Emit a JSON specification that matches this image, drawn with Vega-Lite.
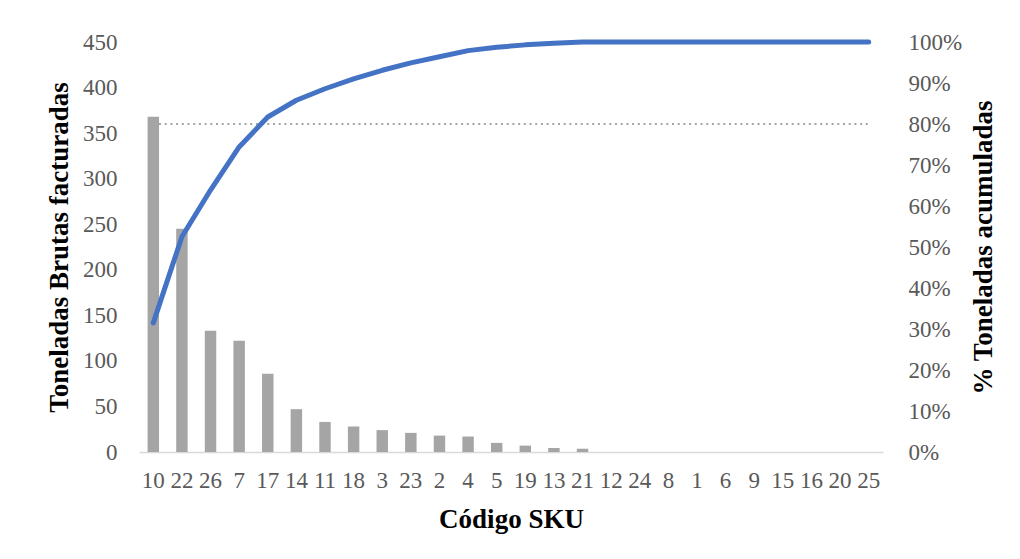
{
  "$schema": "https://vega.github.io/schema/vega-lite/v6.json",
  "width": 744,
  "height": 410,
  "autosize": "none",
  "padding": {"left": 139, "top": 42, "right": 137, "bottom": 107},
  "background": "white",
  "config": {
    "view": {"stroke": null},
    "font": "Liberation Serif",
    "axis": {"grid": false, "ticks": false, "labelFont": "Liberation Serif", "labelFontSize": 23, "labelColor": "#595959", "titleFont": "Liberation Serif", "titleFontSize": 27, "titleFontWeight": "bold", "titleColor": "#000000"}
  },
  "data": {
    "values": [
      {"sku": "10", "tons": 368, "pct": 0.315},
      {"sku": "22", "tons": 245, "pct": 0.525},
      {"sku": "26", "tons": 133, "pct": 0.639},
      {"sku": "7", "tons": 122, "pct": 0.744},
      {"sku": "17", "tons": 86, "pct": 0.817},
      {"sku": "14", "tons": 47, "pct": 0.858},
      {"sku": "11", "tons": 33, "pct": 0.886},
      {"sku": "18", "tons": 28, "pct": 0.910},
      {"sku": "3", "tons": 24, "pct": 0.931},
      {"sku": "23", "tons": 21, "pct": 0.949},
      {"sku": "2", "tons": 18, "pct": 0.964},
      {"sku": "4", "tons": 17, "pct": 0.979},
      {"sku": "5", "tons": 10, "pct": 0.987},
      {"sku": "19", "tons": 7, "pct": 0.993},
      {"sku": "13", "tons": 4.4, "pct": 0.997},
      {"sku": "21", "tons": 3.6, "pct": 1.0},
      {"sku": "12", "tons": 0, "pct": 1.0},
      {"sku": "24", "tons": 0, "pct": 1.0},
      {"sku": "8", "tons": 0, "pct": 1.0},
      {"sku": "1", "tons": 0, "pct": 1.0},
      {"sku": "6", "tons": 0, "pct": 1.0},
      {"sku": "9", "tons": 0, "pct": 1.0},
      {"sku": "15", "tons": 0, "pct": 1.0},
      {"sku": "16", "tons": 0, "pct": 1.0},
      {"sku": "20", "tons": 0, "pct": 1.0},
      {"sku": "25", "tons": 0, "pct": 1.0}
    ]
  },
  "encoding": {
    "x": {
      "field": "sku", "type": "ordinal", "sort": null,
      "scale": {"paddingInner": 0.6, "paddingOuter": 0.3},
      "axis": {"title": "Código SKU", "labelAngle": 0, "labelPadding": 17, "domainColor": "#D9D9D9", "domainWidth": 1.5, "titleX": 372, "titleY": 67, "titleBaseline": "middle", "titleAlign": "center"}
    }
  },
  "layer": [
    {
      "mark": {"type": "line", "color": "#A5A5A5", "strokeWidth": 2, "strokeDash": [2, 3.7]},
      "encoding": {
        "y": {"datum": 0.8, "type": "quantitative", "scale": {"domain": [0, 1]}, "axis": null}
      }
    },
    {
      "mark": {"type": "bar", "color": "#A5A5A5"},
      "encoding": {
        "y": {
          "field": "tons", "type": "quantitative",
          "scale": {"domain": [0, 450]},
          "axis": {"title": "Toneladas Brutas facturadas", "values": [0, 50, 100, 150, 200, 250, 300, 350, 400, 450], "domain": false, "labelPadding": 22, "titleX": -80, "titleY": 205, "titleBaseline": "middle", "titleAlign": "center", "titleAngle": -90}
        }
      }
    },
    {
      "mark": {"type": "line", "color": "#4472C4", "strokeWidth": 5, "strokeCap": "round", "strokeJoin": "round"},
      "encoding": {
        "y": {
          "field": "pct", "type": "quantitative",
          "scale": {"domain": [0, 1]},
          "axis": {"orient": "right", "title": "% Toneladas acumuladas", "format": ".0%", "values": [0, 0.1, 0.2, 0.3, 0.4, 0.5, 0.6, 0.7, 0.8, 0.9, 1], "domain": false, "labelPadding": 25, "titleX": 100, "titleY": 205, "titleBaseline": "middle", "titleAlign": "center", "titleAngle": -90}
        }
      }
    }
  ],
  "resolve": {"scale": {"y": "independent"}}
}
